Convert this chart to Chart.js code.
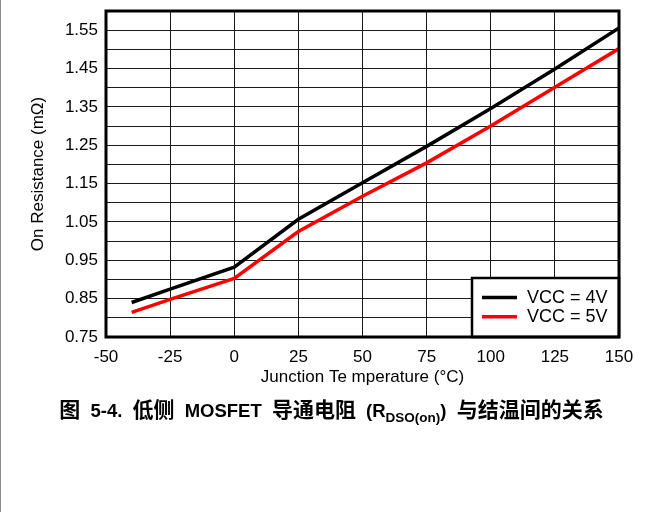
<!DOCTYPE html>
<html>
<head>
<meta charset="utf-8">
<script src="https://cdn.jsdelivr.net/npm/chart.js@4/dist/chart.umd.min.js"></script>
<style>
  html, body { margin: 0; padding: 0; background: #fff; }
  body { width: 663px; height: 512px; position: relative; overflow: hidden; }
  #frame { position: absolute; left: 0; top: 0; width: 1px; height: 512px; background: #8a8a8a; }
  #wrap { position: absolute; left: 0; top: 0; width: 663px; height: 395px; }
  #caption { position: absolute; left: 0; width: 663px; top: 393px; text-align: center;
    font-family: "Liberation Sans", Arial, "Noto Sans CJK SC", sans-serif; font-weight: bold; font-size: 18.5px; color: #000; white-space: nowrap; word-spacing: 5px; }
  #caption .cjk { font-family: "Noto Sans CJK SC", sans-serif; font-size: 21px; }
  #caption sub { font-size: 13.5px; vertical-align: -5px; line-height: 0; }
</style>
</head>
<body>
<div id="frame"></div>
<div id="wrap"><canvas id="c" width="663" height="395"></canvas></div>
<div id="caption"><span class="cjk">图</span> 5-4. <span class="cjk">低侧</span> MOSFET <span class="cjk">导通电阻</span> (R<sub>DSO(on)</sub>) <span class="cjk">与结温间的关系</span></div>
<script>
const temperatures = [-40, -25, 0, 25, 50, 75, 100, 125, 150];
const vcc4V = [0.840, 0.875, 0.932, 1.057, 1.152, 1.247, 1.346, 1.449, 1.556];
const vcc5V = [0.814, 0.848, 0.903, 1.025, 1.117, 1.204, 1.300, 1.401, 1.502];
const seriesLabels = ["VCC = 4V", "VCC = 5V"];
const yTickLabels = ["0.75", "0.85", "0.95", "1.05", "1.15", "1.25", "1.35", "1.45", "1.55"];
const xTickLabels = ["-50", "-25", "0", "25", "50", "75", "100", "125", "150"];

const FONT = '"Liberation Sans", Arial, sans-serif';

const framePlugin = {
  id: 'frameAndLegend',
  afterDatasetsDraw(chart) {
    const {ctx, chartArea: a} = chart;
    ctx.save();
    const lx = 472, ly = 278, lw = a.right - 472, lh = a.bottom - 278;
    ctx.fillStyle = '#fff';
    ctx.fillRect(lx, ly, lw, lh);
    ctx.strokeStyle = '#000';
    ctx.lineWidth = 2.5;
    ctx.strokeRect(lx, ly, lw, lh);
    chart.data.datasets.forEach((ds, i) => {
      const y = 297.5 + i * 19.3;
      ctx.strokeStyle = ds.borderColor;
      ctx.lineWidth = 3.5;
      ctx.beginPath();
      ctx.moveTo(482, y);
      ctx.lineTo(517, y);
      ctx.stroke();
      ctx.fillStyle = '#000';
      ctx.font = '18px ' + FONT;
      ctx.textBaseline = 'middle';
      ctx.textAlign = 'left';
      ctx.fillText(ds.label, 527, y + 0.5);
    });
    ctx.strokeStyle = '#000';
    ctx.lineWidth = 3;
    ctx.strokeRect(a.left, a.top, a.right - a.left, a.bottom - a.top);
    ctx.restore();
  }
};

new Chart(document.getElementById('c'), {
  type: 'line',
  data: {
    datasets: [
      { label: seriesLabels[0], data: temperatures.map((t, i) => ({x: t, y: vcc4V[i]})),
        borderColor: '#000000', borderWidth: 3.5, pointRadius: 0, tension: 0, fill: false },
      { label: seriesLabels[1], data: temperatures.map((t, i) => ({x: t, y: vcc5V[i]})),
        borderColor: '#ff0000', borderWidth: 3.5, pointRadius: 0, tension: 0, fill: false }
    ]
  },
  options: {
    responsive: false,
    animation: false,
    layout: { padding: { top: 11, right: 44, left: 0, bottom: 0 } },
    plugins: { legend: { display: false }, tooltip: { enabled: false } },
    scales: {
      x: {
        type: 'linear', min: -50, max: 150,
        afterBuildTicks: s => { s.ticks = xTickLabels.map(v => ({value: Number(v)})); },
        afterFit: s => { s.height = 395 - 337; s.paddingLeft = 0; s.paddingRight = 0; },
        ticks: { color: '#000', font: { family: FONT, size: 17 }, padding: 10,
                 callback: (v) => xTickLabels.find(l => Number(l) === v) ?? '' , maxRotation: 0, autoSkip: false },
        grid: { color: '#1a1a1a', lineWidth: 1, drawTicks: false },
        border: { display: false },
        title: { display: true, text: 'Junction Te mperature (°C)', color: '#000',
                 font: { family: FONT, size: 17 }, padding: { top: 0, bottom: 7 } }
      },
      y: {
        type: 'linear', min: 0.75, max: 1.60,
        afterBuildTicks: s => {
          const t = [];
          for (let k = 0; k <= 17; k++) t.push({value: +(0.75 + k * 0.05).toFixed(2)});
          s.ticks = t;
        },
        afterFit: s => { s.width = 106; s.paddingTop = 0; s.paddingBottom = 0; },
        ticks: { color: '#000', font: { family: FONT, size: 17 }, padding: 8, autoSkip: false,
                 callback: (v) => yTickLabels.find(l => Math.abs(Number(l) - v) < 1e-6) ?? '' },
        grid: { color: '#1a1a1a', lineWidth: 1, drawTicks: false },
        border: { display: false },
        title: { display: true, text: 'On Resistance (mΩ)', color: '#000',
                 font: { family: FONT, size: 17 }, padding: { top: 28, bottom: 0 } }
      }
    }
  },
  plugins: [framePlugin]
});
</script>
</body>
</html>
